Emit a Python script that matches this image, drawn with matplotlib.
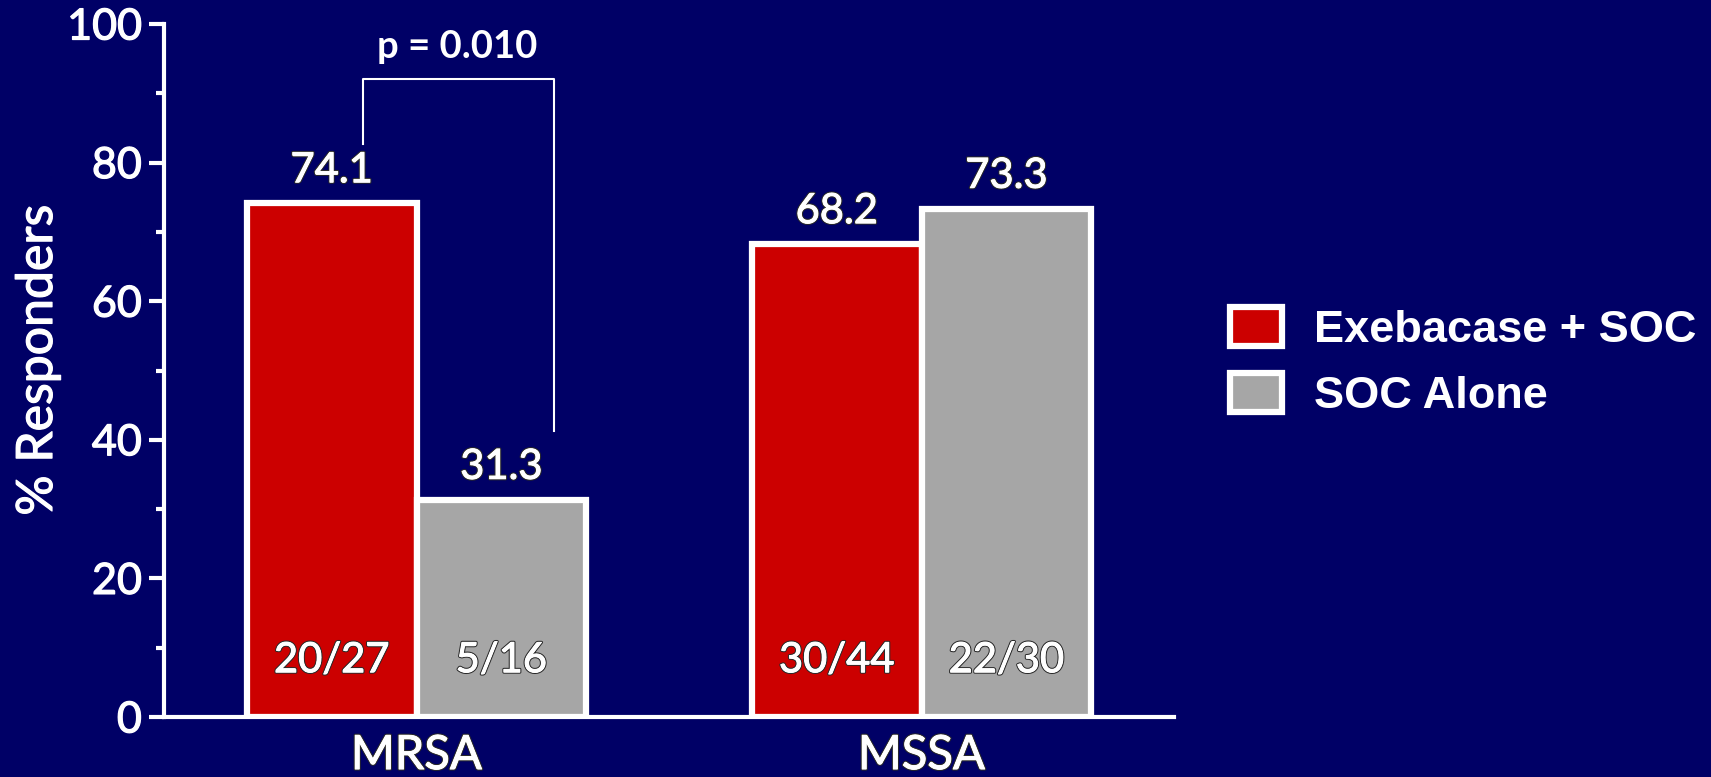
import matplotlib
matplotlib.use("Agg")
import matplotlib.pyplot as plt
import matplotlib.patheffects as pe
import numpy as np

categories = ["MRSA", "MSSA"]
series_names = ["Exebacase + SOC", "SOC Alone"]
exebacase = [74.1, 68.2]
soc_alone = [31.3, 73.3]
exebacase_n = ["20/27", "30/44"]
soc_alone_n = ["5/16", "22/30"]
yticks = [0, 20, 40, 60, 80, 100]
p_text = "p = 0.010"

BG = "#000066"
RED = "#CC0000"
GRAY = "#A6A6A6"
FONT = "Lato"

fig = plt.figure(figsize=(17.11, 7.77), dpi=100, facecolor=BG)
ax = fig.add_axes([164/1711, 1-717/777, (1174-164)/1711, (717-24)/777])
ax.set_facecolor(BG)

x = np.arange(len(categories))
w = 0.336
b1 = ax.bar(x - w/2, exebacase, w, color=RED, edgecolor="white", linewidth=4.5, label=series_names[0], zorder=3)
b2 = ax.bar(x + w/2, soc_alone, w, color=GRAY, edgecolor="white", linewidth=4.5, label=series_names[1], zorder=3)

thick = [pe.withStroke(linewidth=0.9, foreground="white")]
outlined = [pe.withStroke(linewidth=2.2, foreground="#2a2a2a"),
            pe.withStroke(linewidth=0.7, foreground="white")]
for bars, vals, ns in [(b1, exebacase, exebacase_n), (b2, soc_alone, soc_alone_n)]:
    for r, v, n in zip(bars, vals, ns):
        cx = r.get_x() + r.get_width()/2
        ax.text(cx, v + 4.8, f"{v:.1f}", ha="center", va="center", color="white",
                fontsize=30, family=FONT, path_effects=outlined, zorder=5)
        ax.text(cx, 8.2, n, ha="center", va="center", color="white",
                fontsize=30, family=FONT, path_effects=outlined, zorder=5)

ax.set_xlim(-0.5, 1.5)
ax.set_ylim(0, 100)
ax.set_yticks(yticks)
ax.set_yticks([10, 30, 50, 70, 90], minor=True)
ax.tick_params(axis="y", which="major", direction="out", length=11, width=3,
               colors="white", labelsize=31, pad=5)
ax.tick_params(axis="y", which="minor", direction="out", length=5.5, width=3, colors="white")
for lab in ax.get_yticklabels():
    lab.set_family(FONT)
    lab.set_path_effects(thick)
ax.set_xticks(x)
ax.set_xticklabels(categories, fontsize=34, family=FONT, color="white")
for lab in ax.get_xticklabels():
    lab.set_path_effects(outlined)
ax.tick_params(axis="x", length=0, pad=13)
for s in ["top", "right"]:
    ax.spines[s].set_visible(False)
for s in ["left", "bottom"]:
    ax.spines[s].set_color("white")
    ax.spines[s].set_linewidth(3)

fig.text(38/1711, 1-360/777, "% Responders", rotation=90, ha="center", va="center",
         color="white", fontsize=36, family=FONT, path_effects=thick)

# significance bracket
xl, xr = -0.106, 0.272
ax.plot([xl, xl, xr, xr], [82.7, 92.1, 92.1, 41.3], color="white", lw=1.5, clip_on=False, zorder=4)
ax.text(0.081, 96.7, p_text, ha="center", va="center", color="white", fontsize=27.5,
        family=FONT, fontweight="bold", clip_on=False)

leg = fig.legend(handles=[b1, b2], labels=series_names, loc="center left",
                 bbox_to_anchor=(1230/1711, 1-362/777), bbox_transform=fig.transFigure,
                 frameon=False, borderpad=0, borderaxespad=0, handlelength=1.15,
                 handleheight=0.95, handletextpad=0.72, labelspacing=0.5,
                 prop={"family": "Liberation Sans", "weight": "bold", "size": 32.5})
for t in leg.get_texts():
    t.set_color("white")

fig.savefig("out.png", dpi=100, facecolor=BG)
